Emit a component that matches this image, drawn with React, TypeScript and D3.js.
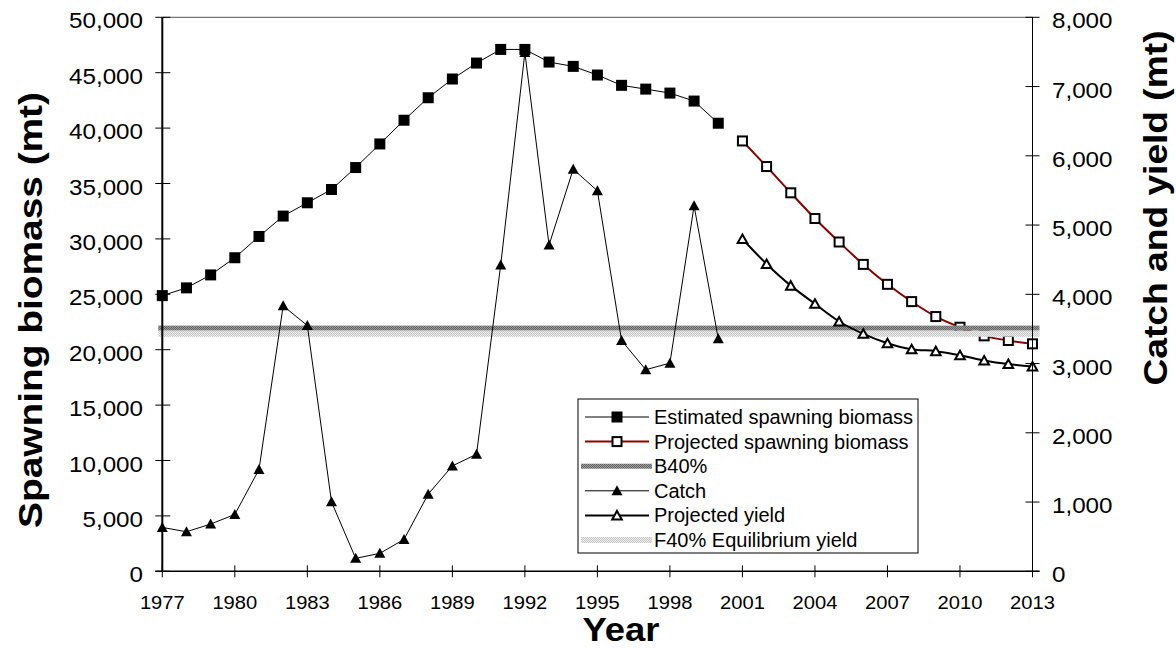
import React from "react";
import * as d3 from "d3";

const histYears = [1977, 1978, 1979, 1980, 1981, 1982, 1983, 1984, 1985, 1986, 1987, 1988, 1989, 1990, 1991, 1992, 1993, 1994, 1995, 1996, 1997, 1998, 1999, 2000];
const projYears = [2001, 2002, 2003, 2004, 2005, 2006, 2007, 2008, 2009, 2010, 2011, 2012, 2013];

const estimatedBiomass = [24880, 25580, 26750, 28300, 30220, 32060, 33260, 34460, 36440, 38570, 40710, 42740, 44430, 45870, 47100, 47100, 45960, 45570, 44790, 43860, 43520, 43160, 42440, 40440];
const projectedBiomass = [38840, 36530, 34160, 31840, 29720, 27700, 25900, 24340, 22990, 22030, 21250, 20830, 20530];
const catchValues = [634, 571, 682, 821, 1470, 3833, 3549, 1003, 187, 259, 461, 1114, 1522, 1690, 4424, 7490, 4712, 5807, 5494, 3333, 2911, 3006, 5278, 3357];
const projectedYield = [4798, 4438, 4125, 3862, 3607, 3429, 3294, 3207, 3179, 3121, 3045, 2992, 2958];
const b40Biomass = 21950;
const f40Yield = 3430;

const xTickYears = [1977, 1980, 1983, 1986, 1989, 1992, 1995, 1998, 2001, 2004, 2007, 2010, 2013];
const leftTicks = [0, 5000, 10000, 15000, 20000, 25000, 30000, 35000, 40000, 45000, 50000];
const rightTicks = [0, 1000, 2000, 3000, 4000, 5000, 6000, 7000, 8000];
const legendLabels = [
  "Estimated spawning biomass",
  "Projected spawning biomass",
  "B40%",
  "Catch",
  "Projected yield",
  "F40% Equilibrium yield",
];

const FONT = "'Liberation Sans', Arial, Helvetica, sans-serif";
const RED = "#8b0000";

const triPath = "M0,-5.5L5.5,4.5L-5.5,4.5Z";

export default function App() {
  const W = 1176, H = 651;
  const x = d3.scaleLinear().domain([1977, 2013]).range([162.3, 1032.5]);
  const yL = d3.scaleLinear().domain([0, 50000]).range([571.3, 17.3]);
  const yR = d3.scaleLinear().domain([0, 8000]).range([571.3, 17.3]);
  const fmt = d3.format(",");

  const estPts = histYears.map((yr, i) => [x(yr), yL(estimatedBiomass[i])] as [number, number]);
  const projPts = projYears.map((yr, i) => [x(yr), yL(projectedBiomass[i])] as [number, number]);
  const catchPts = histYears.map((yr, i) => [x(yr), yR(catchValues[i])] as [number, number]);
  const yieldPts = projYears.map((yr, i) => [x(yr), yR(projectedYield[i])] as [number, number]);

  const straight = d3.line();
  const smooth = d3.line().curve(d3.curveCatmullRom.alpha(0.5));

  const x0 = x(1977), x1 = x(2013);
  const yBottom = yL(0), yTop = yL(50000);

  const legX = 578, legY = 399, legW = 340, legH = 154;
  const rowY = (i: number) => 417 + i * 24.6;
  const symX0 = 585, symX1 = 649, symC = 617, txtX = 654;

  return (
    <div style={{ position: "absolute", left: 0, top: 0, width: W, height: H, background: "#fff" }}>
      <svg width={W} height={H} viewBox={`0 0 ${W} ${H}`} style={{ display: "block" }}>
        <defs>
          <pattern id="darkPat" patternUnits="userSpaceOnUse" width="2" height="2">
            <rect width="2" height="2" fill="#9a9a9a" />
            <rect width="1" height="1" fill="#666" />
            <rect x="1" y="1" width="1" height="1" fill="#666" />
          </pattern>
          <pattern id="lightPat" patternUnits="userSpaceOnUse" width="2" height="2">
            <rect width="2" height="2" fill="#ececec" />
            <rect width="1" height="1" fill="#c6c6c6" />
            <rect x="1" y="1" width="1" height="1" fill="#c6c6c6" />
          </pattern>
        </defs>
        <rect width={W} height={H} fill="#fff" />

        {/* top border */}
        <line x1={x0} x2={x1} y1={yTop} y2={yTop} stroke="#555" strokeWidth={1} />

        {/* estimated biomass */}
        <path d={straight(estPts) || ""} fill="none" stroke="#000" strokeWidth={1} />
        {estPts.map(([px, py], i) => (
          <rect key={"e" + i} x={px - 5.5} y={py - 5.5} width={11} height={11} fill="#000" />
        ))}

        {/* projected biomass */}
        <path d={smooth(projPts) || ""} fill="none" stroke={RED} strokeWidth={2} />
        {projPts.map(([px, py], i) => (
          <rect key={"p" + i} x={px - 4.5} y={py - 4.5} width={9} height={9} fill="#fff" stroke="#000" strokeWidth={2} />
        ))}

        {/* reference bands */}
        <rect x={x0 - 4} y={yL(b40Biomass) - 2.5} width={x1 - x0 + 11} height={5} fill="url(#darkPat)" />
        <rect x={x0 - 4} y={yR(f40Yield) - 3} width={x1 - x0 + 11} height={6} fill="url(#lightPat)" />

        {/* catch */}
        <path d={straight(catchPts) || ""} fill="none" stroke="#000" strokeWidth={1} />
        {catchPts.map(([px, py], i) => (
          <path key={"c" + i} d={triPath} transform={`translate(${px},${py})`} fill="#000" />
        ))}

        {/* projected yield */}
        <path d={smooth(yieldPts) || ""} fill="none" stroke="#000" strokeWidth={2} />
        {yieldPts.map(([px, py], i) => (
          <path key={"y" + i} d="M0,-4.5L4.8,4L-4.8,4Z" transform={`translate(${px},${py})`} fill="#fff" stroke="#000" strokeWidth={2} strokeLinejoin="miter" />
        ))}

        {/* axes */}
        <line x1={x0} x2={x0} y1={yTop} y2={yBottom} stroke="#000" strokeWidth={2} />
        <line x1={x1} x2={x1} y1={yTop} y2={yBottom} stroke="#000" strokeWidth={1} />
        <line x1={x0 - 7} x2={x1 + 7} y1={yBottom} y2={yBottom} stroke="#000" strokeWidth={1.5} />

        {leftTicks.map((v) => (
          <g key={"lt" + v}>
            <line x1={x0 - 7} x2={x0 + 8} y1={yL(v)} y2={yL(v)} stroke="#000" strokeWidth={1} />
            <text transform={`translate(143,${yL(v) + 11}) scale(1.1,1)`} textAnchor="end" fontFamily={FONT} fontSize={22} fill="#000">
              {fmt(v)}
            </text>
          </g>
        ))}
        {rightTicks.map((v) => (
          <g key={"rt" + v}>
            <line x1={x1 - 7} x2={x1 + 7} y1={yR(v)} y2={yR(v)} stroke="#000" strokeWidth={1} />
            <text transform={`translate(1052,${yR(v) + 11}) scale(1.1,1)`} textAnchor="start" fontFamily={FONT} fontSize={22} fill="#000">
              {fmt(v)}
            </text>
          </g>
        ))}
        {xTickYears.map((yr) => (
          <g key={"xt" + yr}>
            <line x1={x(yr)} x2={x(yr)} y1={yBottom - 6} y2={yBottom + 6} stroke="#000" strokeWidth={1} />
            <text transform={`translate(${x(yr)},609) scale(1.12,1)`} textAnchor="middle" fontFamily={FONT} fontSize={18} fill="#000">
              {yr}
            </text>
          </g>
        ))}

        {/* axis titles */}
        <text x={621} y={641} textAnchor="middle" fontFamily={FONT} fontSize={33} fontWeight="bold" fill="#000" textLength={77} lengthAdjust="spacingAndGlyphs">Year</text>
        <text transform="translate(30,310) rotate(-90)" y={12} textAnchor="middle" fontFamily={FONT} fontSize={34} fontWeight="bold" fill="#000" textLength={436} lengthAdjust="spacingAndGlyphs">
          Spawning biomass (mt)
        </text>
        <text transform="translate(1155,208) rotate(-90)" y={12} textAnchor="middle" fontFamily={FONT} fontSize={34} fontWeight="bold" fill="#000" textLength={355} lengthAdjust="spacingAndGlyphs">
          Catch and yield (mt)
        </text>

        {/* legend */}
        <rect x={legX} y={legY} width={legW} height={legH} fill="#fff" stroke="#000" strokeWidth={1} />
        {legendLabels.map((lab, i) => {
          const cy = rowY(i);
          let sym: React.ReactNode = null;
          if (i === 0) {
            sym = (
              <g>
                <line x1={symX0} x2={symX1} y1={cy} y2={cy} stroke="#000" strokeWidth={1} />
                <rect x={symC - 5.5} y={cy - 5.5} width={11} height={11} fill="#000" />
              </g>
            );
          } else if (i === 1) {
            sym = (
              <g>
                <line x1={symX0} x2={symX1} y1={cy} y2={cy} stroke={RED} strokeWidth={2} />
                <rect x={symC - 4.5} y={cy - 4.5} width={9} height={9} fill="#fff" stroke="#000" strokeWidth={2} />
              </g>
            );
          } else if (i === 2) {
            sym = <rect x={581} y={cy - 2.5} width={71} height={5} fill="url(#darkPat)" />;
          } else if (i === 3) {
            sym = (
              <g>
                <line x1={symX0} x2={symX1} y1={cy} y2={cy} stroke="#000" strokeWidth={1} />
                <path d={triPath} transform={`translate(${symC},${cy})`} fill="#000" />
              </g>
            );
          } else if (i === 4) {
            sym = (
              <g>
                <line x1={symX0} x2={symX1} y1={cy} y2={cy} stroke="#000" strokeWidth={2} />
                <path d="M0,-4.5L4.8,4L-4.8,4Z" transform={`translate(${symC},${cy})`} fill="#fff" stroke="#000" strokeWidth={2} />
              </g>
            );
          } else {
            sym = <rect x={581} y={cy - 3} width={71} height={6} fill="url(#lightPat)" />;
          }
          return (
            <g key={"lg" + i}>
              {sym}
              <text x={txtX} y={cy + 7} fontFamily={FONT} fontSize={20} fill="#000">{lab}</text>
            </g>
          );
        })}
      </svg>
    </div>
  );
}
